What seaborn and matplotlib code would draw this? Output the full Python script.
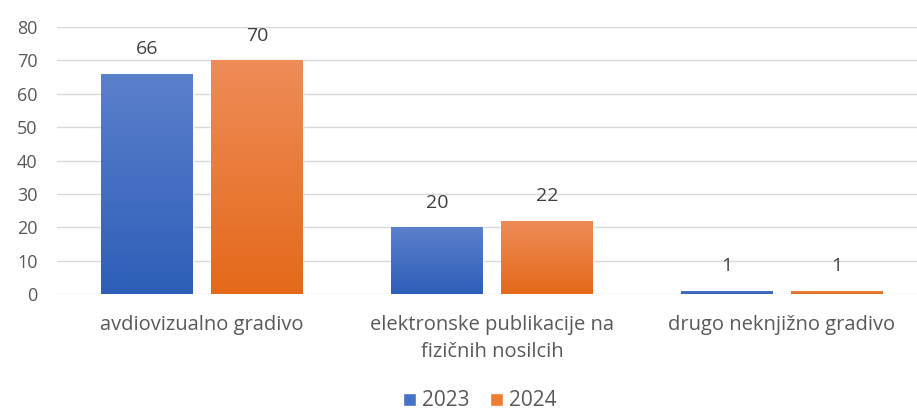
import numpy as np
import pandas as pd
import matplotlib
matplotlib.use("Agg")
import matplotlib.pyplot as plt
import seaborn as sns
from matplotlib.colors import LinearSegmentedColormap
from matplotlib.patches import Patch

categories = ["avdiovizualno gradivo", "elektronske publikacije na\nfizičnih nosilcih", "drugo neknjižno gradivo"]
years = ["2023", "2024"]
values_2023 = [66, 20, 1]
values_2024 = [70, 22, 1]
y_ticks = [0, 10, 20, 30, 40, 50, 60, 70, 80]

df = pd.DataFrame({
    "kategorija": categories * 2,
    "leto": [years[0]] * 3 + [years[1]] * 3,
    "vrednost": values_2023 + values_2024,
})

sns.set_theme(style="white")
plt.rcParams["font.family"] = ["Open Sans", "DejaVu Sans"]

fig = plt.figure(figsize=(9.17, 4.12), dpi=100)
ax = fig.add_axes([57 / 917, 118 / 412, 870 / 917, 267 / 412])

base_colors = {"2023": "#4472C4", "2024": "#ED7D31"}
grad = {"2023": ("#5B80CC", "#2E5EB8"), "2024": ("#EF8C58", "#E4691A")}

sns.barplot(data=df, x="kategorija", y="vrednost", hue="leto", order=categories,
            hue_order=years, palette=base_colors, width=0.76, gap=0.17,
            legend=False, ax=ax, zorder=3)

ax.set_ylim(0, 80)
ax.set_xlim(-0.5, 2.5)

# gradient fill clipped to bars
for container, yr in zip(ax.containers, years):
    cmap = LinearSegmentedColormap.from_list("g" + yr, [grad[yr][1], grad[yr][0]])
    for p in container.patches:
        x0, y0 = p.get_x(), p.get_y()
        w, h = p.get_width(), p.get_height()
        g = np.linspace(0, 1, 256).reshape(-1, 1)
        im = ax.imshow(g, extent=[x0, x0 + w, y0, y0 + h], origin="lower",
                       cmap=cmap, aspect="auto", zorder=4)
        im.set_clip_path(p)
    ax.bar_label(container, padding=11, fontsize=14, color="#404040")

ax.set_ylim(0, 80)
ax.set_xlim(-0.5, 2.5)
ax.set_yticks(y_ticks)
ax.grid(axis="y", color="#D9D9D9", linewidth=1, zorder=0)
ax.set_axisbelow(True)
for s in ax.spines.values():
    s.set_visible(False)
ax.tick_params(axis="y", length=0, labelsize=13, colors="#595959", pad=14)
ax.tick_params(axis="x", length=0, labelsize=14.5, colors="#595959", pad=15)
ax.set_xlabel("")
ax.set_ylabel("")
for t in ax.get_xticklabels():
    t.set_linespacing(1.5)

handles = [Patch(facecolor=base_colors[y], label=y) for y in years]
fig.legend(handles=handles, loc="center", bbox_to_anchor=(480 / 917, 1 - 401 / 412),
           ncol=2, frameon=False, fontsize=15, handlelength=0.6, handleheight=0.6,
           handletextpad=0.3, columnspacing=1.0, labelcolor="#595959")

fig.savefig("out.png", dpi=100)
